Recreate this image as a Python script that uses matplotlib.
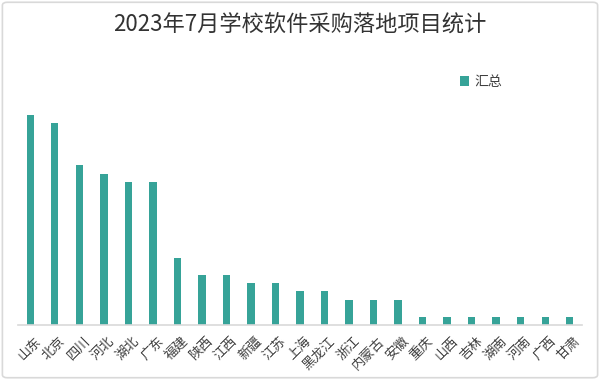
import matplotlib.pyplot as plt
import matplotlib.transforms as mtransforms
from matplotlib.patches import FancyBboxPatch

plt.rcParams['font.family'] = ['Noto Sans CJK SC', 'DejaVu Sans']

# data
provinces = ['山东', '北京', '四川', '河北', '湖北', '广东', '福建', '陕西', '江西', '新疆',
             '江苏', '上海', '黑龙江', '浙江', '内蒙古', '安徽', '重庆', '山西', '吉林',
             '湖南', '河南', '广西', '甘肃']
counts = [25, 24, 19, 18, 17, 17, 8, 6, 6, 5, 5, 4, 4, 3, 3, 3, 1, 1, 1, 1, 1, 1, 1]

bar_color = '#36A398'

fig = plt.figure(figsize=(6, 3.8), dpi=100)
ax = fig.add_axes([0.03, 0.145, 0.94, 0.663])

x = range(len(provinces))
ax.bar(x, counts, width=0.3, color=bar_color, label='汇总')

ax.set_xlim(-0.5, len(provinces) - 0.5)
ax.set_ylim(0, 30)
ax.set_yticks([])
ax.set_xticks(list(x))
ax.set_xticklabels(provinces, rotation=45, ha='right', rotation_mode='anchor',
                   fontsize=9.5, color='#404040')
ax.tick_params(axis='x', length=0, pad=7)
# nudge the rotated labels a little to the right, as in the original
shift = mtransforms.ScaledTranslation(4 / 100, 0, fig.dpi_scale_trans)
for lbl in ax.get_xticklabels():
    lbl.set_transform(lbl.get_transform() + shift)

for side in ['top', 'right', 'left']:
    ax.spines[side].set_visible(False)
ax.spines['bottom'].set_color('#D9D9D9')
ax.spines['bottom'].set_linewidth(1.2)

fig.text(0.5, 0.934, '2023年7月学校软件采购落地项目统计', ha='center', va='center',
         fontsize=16, color='#333333')

ax.legend(loc='center left', bbox_to_anchor=(0.745, 0.785), bbox_transform=fig.transFigure,
          frameon=False, fontsize=10, handlelength=0.7, handleheight=0.7,
          handletextpad=0.4, labelcolor='#404040')

# light rounded border around the whole chart
border = FancyBboxPatch((0.004, 0.006), 0.992, 0.988, boxstyle='round,pad=0,rounding_size=0.008',
                        transform=fig.transFigure, facecolor='none', edgecolor='#D9D9D9',
                        linewidth=1.2)
fig.patches.append(border)

fig.savefig('out.png', dpi=100)
